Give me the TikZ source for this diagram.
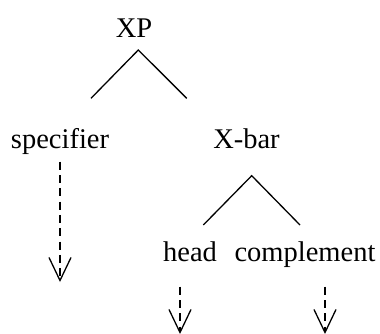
\documentclass[tikz,border=0pt]{standalone}
\usepackage{fontspec}
\setmainfont{Liberation Serif}
\usetikzlibrary{arrows.meta}

\begin{document}
\begin{tikzpicture}[x = 1pt, y = -1pt,
  label/.style = {anchor = base, inner sep = 0pt, font = \fontsize{28.5}{34}\selectfont},
  branch/.style = {line width = 1.3pt},
  proj/.style = {line width = 1.3pt, dash pattern = on 8pt off 5.3pt,
    -{Straight Barb[length = 23pt, width = 22pt, line width = 1.3pt]}}]
\useasboundingbox (0,0) rectangle (380,334);
% phrase level
\node[label] (xp) at (134,37.3) {XP};
\coordinate (xp-top) at (138.3,50);
\coordinate (spec-end) at (91,98.3);
\coordinate (xbar-end) at (186.7,98.3);
\draw[branch] (spec-end) -- (xp-top) -- (xbar-end);
\node[label] (spec) at (60,148) {specifier};
\node[label] (xbar) at (246.5,148) {X-bar};
% bar level
\coordinate (xbar-top) at (251.7,175.7);
\coordinate (head-end) at (203.3,225);
\coordinate (comp-end) at (300,225);
\draw[branch] (head-end) -- (xbar-top) -- (comp-end);
\node[label] (head) at (190,261) {head};
\node[label] (comp) at (305,261) {complement};
% projections
\coordinate (spec-from) at (60,161.7);
\coordinate (spec-to) at (60,282);
\coordinate (head-from) at (180,286.7);
\coordinate (head-to) at (180,334);
\coordinate (comp-from) at (325,286.7);
\coordinate (comp-to) at (325,334);
\draw[proj] (spec-from) -- (spec-to);
\draw[proj] (head-from) -- (head-to);
\draw[proj] (comp-from) -- (comp-to);
\end{tikzpicture}
\end{document}
